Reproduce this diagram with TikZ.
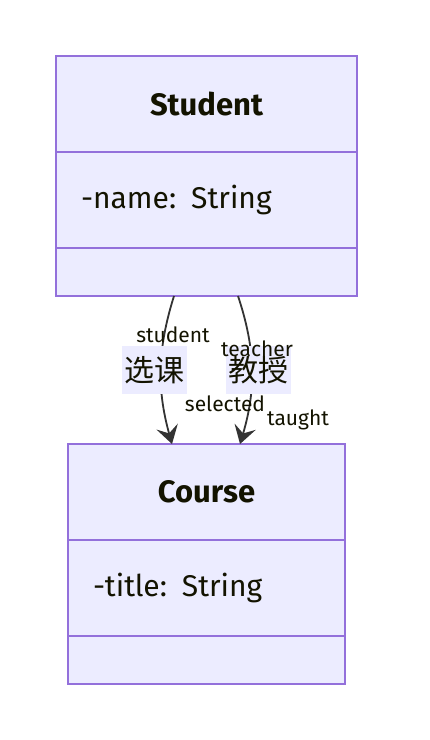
\documentclass[tikz,border=0pt]{standalone}
\usepackage{fontspec}
\setmainfont{Fira Sans}
\newfontfamily\cjk{Noto Sans CJK SC}
\usepackage{xcolor}
\definecolor{boxfill}{HTML}{ECECFF}
\definecolor{boxline}{HTML}{9370DB}
\definecolor{ink}{HTML}{131300}
\definecolor{edgegray}{HTML}{333333}
\usetikzlibrary{arrows.meta}
\usetikzlibrary{positioning}

\begin{document}
\begin{tikzpicture}[x=1pt, y=-1pt,
    compart/.style={draw=boxline, line width=1.3pt, fill=boxfill,
      inner sep=0pt, outer sep=0pt, text=ink},
    title/.style={compart, minimum height=96pt,
      font=\fontsize{31}{36}\selectfont\bfseries},
    attrs/.style={compart, minimum height=96pt, align=left,
      inner xsep=25pt, font=\fontsize{30}{35}\selectfont},
    ops/.style={compart, minimum height=48pt},
    assoc/.style={draw=edgegray, line width=1.8pt,
      -{Stealth[length=18pt, width=22pt, inset=7pt]}},
    relname/.style={fill=boxfill, text=ink, inner sep=2pt,
      minimum height=48pt, minimum width=65pt,
      font=\cjk\fontsize{30}{34}\selectfont},
    role/.style={text=ink, inner sep=0pt, font=\fontsize{21}{24}\selectfont}]

    \useasboundingbox (0, 0) rectangle (430, 740);

    % Student class
    \node [title, minimum width=301pt] (stuName) at (206.5, 104) {Student};
    \node [attrs, text width=251pt, below=0pt of stuName] (stuAttr) {-name: String};
    \node [ops, minimum width=301pt, below=0pt of stuAttr] (stuOps) {};

    % Course class
    \node [title, minimum width=277pt] (crsName) at (206.5, 492) {Course};
    \node [attrs, text width=227pt, below=0pt of crsName] (crsAttr) {-title: String};
    \node [ops, minimum width=277pt, below=0pt of crsAttr] (crsOps) {};

    % associations
    \draw [assoc] ([xshift=118pt]stuOps.south west)
    .. controls (157, 350) and (157, 390) .. ([xshift=104pt]crsName.north west);

    \draw [assoc] ([xshift=182pt]stuOps.south west)
    .. controls (256, 350) and (256, 390) .. ([xshift=172pt]crsName.north west);

    \node [relname] (selects) at (154.5, 370) {选课};
    \node [relname] (teaches) at (258.5, 370) {教授};

    \node [role] (stuRole) at (173, 335) {student};
    \node [role] (tchRole) at (257, 349) {teacher};
    \node [role] (selRole) at (225, 404) {selected};
    \node [role] (tauRole) at (298, 420) {taught};

  \end{tikzpicture}
\end{document}
